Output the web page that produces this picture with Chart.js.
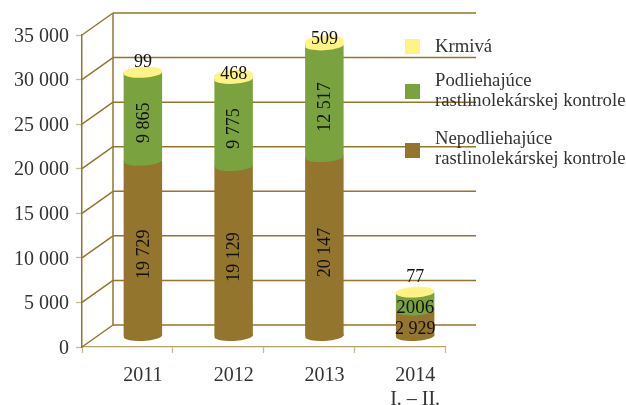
<!DOCTYPE html>
<html><head><meta charset="utf-8">
<style>html,body{margin:0;padding:0;background:#fff}canvas{display:block}</style>
<script src="https://cdn.jsdelivr.net/npm/chart.js@4"></script></head>
<body><canvas id="c" width="626" height="405"></canvas>
<script>
const categories = ['2011', '2012', '2013', ['2014', 'I. – II.']];
const nepodliehajuce = [19729, 19129, 20147, 2929];
const podliehajuce = [9865, 9775, 12517, 2006];
const krmiva = [99, 468, 509, 77];
const nepodliehajuceText = ['19 729', '19 129', '20 147', '2 929'];
const podliehajuceText = ['9 865', '9 775', '12 517', '2006'];
const krmivaText = ['99', '468', '509', '77'];
const legendLines = [['Krmivá'], ['Podliehajúce', 'rastlinolekárskej kontrole'], ['Nepodliehajúce', 'rastlinolekárskej kontrole']];

const BROWN = '#94752e', GREEN = '#7aa23e', YELLOW = '#fff385', LINE = '#94752e', TICK = '#c6b88f';
const SERIF = '"Liberation Serif", serif';
const DX = 15.5, DY = -10.5, BACKX = 31, BACKY = -22;
const topShift = [-10, 0, -2, -15];

const walls = {
  id: 'walls',
  beforeDatasetsDraw(chart) {
    const { ctx, scales: { x, y } } = chart;
    ctx.save();
    ctx.strokeStyle = LINE; ctx.lineWidth = 1.5;
    const bx = x.left + BACKX;
    const seg = (a, b, c, d) => { ctx.beginPath(); ctx.moveTo(a, b); ctx.lineTo(c, d); ctx.stroke(); };
    y.ticks.forEach(t => {
      const py = y.getPixelForValue(t.value);
      seg(x.left, py, bx, py + BACKY);
      seg(bx, py + BACKY, x.right + BACKX, py + BACKY);
    });
    seg(bx, y.top + BACKY, bx, y.bottom + BACKY);
    ctx.restore();
    ctx.save();
    ctx.translate(DX, DY);
  },
  afterDatasetsDraw(chart) {
    const { ctx } = chart;
    const ellipse = (cx, cy, r, color) => {
      ctx.fillStyle = color; ctx.beginPath();
      ctx.ellipse(cx, cy, r, 5, -0.055, 0, Math.PI * 2); ctx.fill();
    };
    const order = [[0, BROWN], [1, GREEN], [2, YELLOW]];
    categories.forEach((_, i) => {
      order.forEach(([d, col]) => {
        const b = chart.getDatasetMeta(d).data[i];
        ellipse(b.x, b.base, b.width / 2, col);
      });
      const top = chart.getDatasetMeta(2).data[i];
      ellipse(top.x, top.y, top.width / 2, YELLOW);
    });
    ctx.restore();
    // value labels
    ctx.save();
    ctx.fillStyle = '#111'; ctx.font = '18px ' + SERIF;
    ctx.textAlign = 'center'; ctx.textBaseline = 'middle';
    categories.forEach((_, i) => {
      [[0, nepodliehajuceText], [1, podliehajuceText]].forEach(([d, txt]) => {
        const b = chart.getDatasetMeta(d).data[i];
        const cx = b.x + DX, cy = (b.y + b.base) / 2 + DY;
        if (i === 3) {
          ctx.font = (d === 1 ? '19px ' : '18px ') + SERIF;
          ctx.fillText(txt[i], cx, cy + (d === 0 ? 6 : 7));
          ctx.font = '18px ' + SERIF;
        } else {
          ctx.save(); ctx.translate(cx + 1, cy + 6); ctx.rotate(-Math.PI / 2);
          ctx.fillText(txt[i], 0, 0); ctx.restore();
        }
      });
      const t = chart.getDatasetMeta(2).data[i];
      ctx.fillText(krmivaText[i], t.x + DX, t.y + DY + topShift[i]);
    });
    ctx.restore();
  },
  afterDraw(chart) {
    const { ctx } = chart;
    ctx.save();
    const colors = [YELLOW, GREEN, BROWN];
    const swatchY = [39, 84, 143];
    const baseY = [[52], [86, 106], [144, 164]];
    ctx.font = '18.7px ' + SERIF;
    ctx.textAlign = 'left'; ctx.textBaseline = 'alphabetic';
    legendLines.forEach((lines, i) => {
      ctx.fillStyle = colors[i]; ctx.fillRect(405, swatchY[i], 15, 15);
      ctx.fillStyle = '#333';
      lines.forEach((l, j) => ctx.fillText(l, 435, baseY[i][j]));
    });
    ctx.restore();
  }
};

const ds = (label, data, color) => ({ label, data, backgroundColor: color, borderWidth: 0, clip: false,
  barPercentage: 0.424, categoryPercentage: 1 });

new Chart(document.getElementById('c'), {
  type: 'bar',
  data: { labels: categories, datasets: [
    ds('Nepodliehajúce rastlinolekárskej kontrole', nepodliehajuce, BROWN),
    ds('Podliehajúce rastlinolekárskej kontrole', podliehajuce, GREEN),
    ds('Krmivá', krmiva, YELLOW)
  ] },
  options: {
    responsive: false, animation: false, devicePixelRatio: 1,
    layout: { padding: { top: 35, right: 181, bottom: 0, left: 0 } },
    plugins: { legend: { display: false }, tooltip: { enabled: false } },
    scales: {
      x: {
        stacked: true,
        afterFit(s) { s.height = 58; },
        grid: { drawOnChartArea: false, tickLength: 6, tickColor: TICK, tickWidth: 1.3 },
        border: { color: '#b5a269', width: 1.3 },
        ticks: { color: '#333', font: { family: 'Liberation Serif', size: 20, lineHeight: 1.2 },
          labelOffset: 15.5, padding: 11, maxRotation: 0, autoSkip: false }
      },
      y: {
        stacked: true, min: 0, max: 35000,
        afterFit(s) { s.width = 82; },
        grid: { drawOnChartArea: false, tickLength: 6, tickColor: TICK, tickWidth: 1.3 },
        border: { color: LINE, width: 1.5 },
        ticks: { stepSize: 5000, color: '#333', padding: 7, autoSkip: false, labelOffset: 1.5,
          font: { family: 'Liberation Serif', size: 20 },
          callback: v => v === 0 ? '0' : (v / 1000) + ' 000' }
      }
    }
  },
  plugins: [walls]
});
</script></body></html>
